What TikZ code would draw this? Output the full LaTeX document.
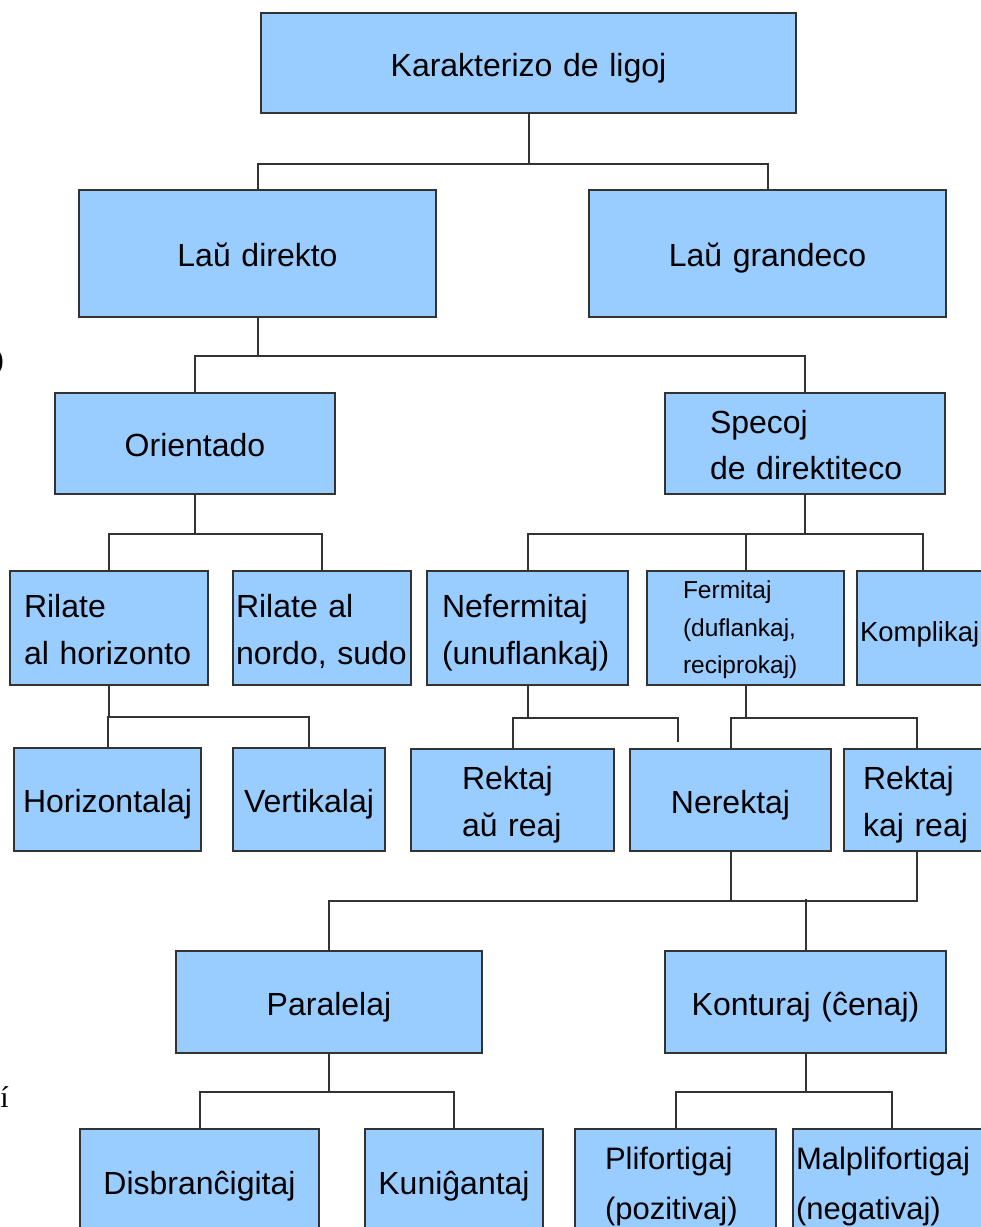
\documentclass[tikz,border=0pt]{standalone}
\usepackage{fontspec}
\setmainfont{Liberation Sans}
\newfontfamily\serifpart{Liberation Serif}
\definecolor{boxfill}{HTML}{99CCFF}
\definecolor{edge}{HTML}{333333}
\newcommand\txtbig{\fontsize{32}{46.5}\selectfont\hyphenpenalty=10000 }
\newcommand\txtsmall{\fontsize{24.5}{37.5}\selectfont\hyphenpenalty=10000 }
\newcommand\txtmid{\fontsize{27.5}{40}\selectfont\hyphenpenalty=10000 }
\newcommand\txtlow{\fontsize{31}{50}\selectfont\hyphenpenalty=10000 }
\begin{document}
\begin{tikzpicture}[x=1pt,y=-1pt,
  box/.style={draw=edge, fill=boxfill, line width=2pt, anchor=north west,
    inner xsep=0pt, inner ysep=0pt, align=center, text=black, font=\txtbig,
    text height=30pt, text depth=4pt},
  lbox/.style={box, align=left},
  % fixed text boxes so that the baselines sit alike in every box
  two/.style={text depth=50.5pt},
  twolow/.style={text depth=54pt, font=\txtlow},
  three/.style={text height=24pt, text depth=83pt, font=\txtsmall},
  link/.style={draw=edge, line width=2pt}]
\useasboundingbox (0,0) rectangle (981,1227);
\fill[white] (0,0) rectangle (981,1227);
\clip (0,0) rectangle (981,1227);

% level 0 and 1
\node[box, text width=535pt, minimum height=100pt] (root) at (260,12) {Karakterizo de ligoj};
\node[box, text width=357pt, minimum height=127pt] (dir) at (78,189) {Laŭ direkto};
\node[box, text width=357pt, minimum height=127pt] (gra) at (588,189) {Laŭ grandeco};

% level 2
\node[box, text width=280pt, minimum height=101pt] (ori) at (54,392) {Orientado};
\node[lbox, two, text width=190pt, inner xsep=45pt, minimum height=101pt] (spe) at (664,392) {Specoj\\de~direktiteco};

% level 3
\node[lbox, two, text width=170pt, inner xsep=14pt, minimum height=114pt] (hor) at (9,570) {Rilate\\al~horizonto};
\node[lbox, two, text width=172pt, inner xsep=3pt, minimum height=114pt] (nor) at (232,570) {Rilate~al\\nordo,~sudo};
\node[lbox, two, text width=171pt, inner xsep=15pt, minimum height=114pt] (nef) at (426,570) {Nefermitaj\\(unuflankaj)};
\node[lbox, three, text width=125pt, inner xsep=36pt, minimum height=114pt] (fer) at (646,570) {Fermitaj\\(duflankaj,\\reciprokaj)};
\node[lbox, text width=126pt, inner xsep=3pt, minimum height=114pt, font=\txtmid] (kom) at (856,570) {Komplikaj};

% level 4
\node[box, text width=187pt, minimum height=103pt] (hrz) at (13,747) {Horizontalaj};
\node[box, text width=152pt, minimum height=103pt] (ver) at (232,747) {Vertikalaj};
\node[lbox, two, text width=101pt, inner xsep=51pt, minimum height=102pt] (rau) at (410,748) {Rektaj\\aŭ~reaj};
\node[box, text width=201pt, minimum height=102pt] (ner) at (629,748) {Nerektaj};
\node[lbox, two, text width=108pt, inner xsep=19pt, minimum height=102pt] (rkr) at (843,748) {Rektaj\\kaj~reaj};

% level 5
\node[box, text width=306pt, minimum height=102pt] (par) at (175,950) {Paralelaj};
\node[box, text width=281pt, minimum height=102pt] (kon) at (664,950) {Konturaj (ĉenaj)};

% level 6
\node[box, text width=239pt, minimum height=105pt] (dis) at (79,1128) {Disbranĉigitaj};
\node[box, text width=178pt, minimum height=105pt] (kun) at (364,1128) {Kuniĝantaj};
\node[lbox, twolow, text width=141pt, inner xsep=30pt, minimum height=105pt] (pli) at (574,1128) {Plifortigaj\\(pozitivaj)};
\node[lbox, twolow, text width=192pt, inner xsep=3pt, minimum height=105pt] (mal) at (792,1128) {Malplifortigaj\\(negativaj)};

% tree connectors
\draw[link] (root.south) -- ++(0,50) coordinate (j0) -| (dir.north);
\draw[link] (j0) -| (gra.north);
\draw[link] (dir.south) -- ++(0,38) coordinate (j1) -| (ori.north);
\draw[link] (j1) -| (spe.north);
\draw[link] (ori.south) -- ++(0,39) coordinate (j2) -| (hor.north);
\draw[link] (j2) -| (nor.north);
\draw[link] (spe.south) -- ++(0,39) coordinate (j3) -| (nef.north);
\draw[link] (j3) -| (fer.north);
\draw[link] (j3) -| (kom.north);
\draw[link] (hor.south) -- ++(0,31) coordinate (j4) -| (hrz.north);
\draw[link] (j4) -| (ver.north);
\draw[link] (nef.south) -- ++(0,32) coordinate (j5) -| (rau.north);
\coordinate (nefend) at (678,742);
\draw[link] (j5) -| (nefend);
\draw[link] (fer.south) -- ++(0,32) coordinate (j6) -| (ner.north);
\draw[link] (j6) -| (rkr.north);
\draw[link] (rkr.south) -- ++(0,49) -| (par.north);
\draw[link] (ner.south) -- ++(0,49);
\draw[link] (kon.north) -- ++(0,-51);
\draw[link] (par.south) -- ++(0,38) coordinate (j7) -| (dis.north);
\draw[link] (j7) -| (kun.north);
\draw[link] (kon.south) -- ++(0,38) coordinate (j8) -| (pli.north);
\draw[link] (j8) -| (mal.north);

% text cut off at the left edge
\node[anchor=east, inner sep=0pt, font=\serifpart\fontsize{30}{30}\selectfont] (frag1) at (4,362) {)};
\node[anchor=base east, inner sep=0pt, font=\serifpart\fontsize{30}{30}\selectfont] (frag2) at (9,1107) {í};
\end{tikzpicture}
\end{document}
